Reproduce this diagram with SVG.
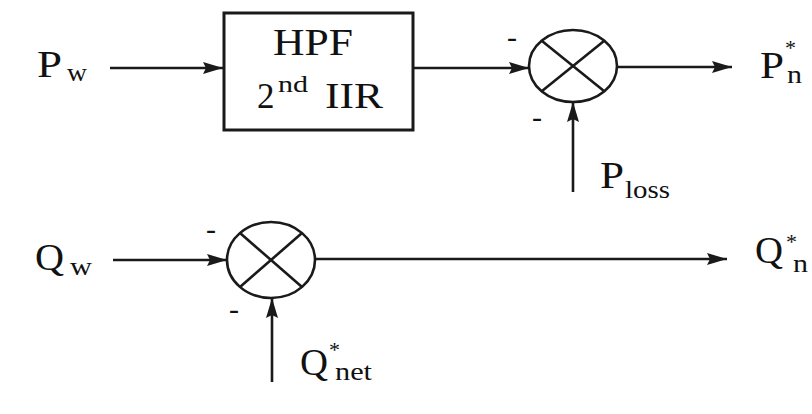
<svg xmlns="http://www.w3.org/2000/svg" width="812" height="414" viewBox="0 0 812 414">
  <style>
    .t { font-family: 'Liberation Serif', 'Times New Roman', serif; fill: #111111; }
    .main { font-size: 38px; }
    .sub { font-size: 25px; }
    .star { font-size: 22px; }
    .sign { font-size: 30px; text-anchor: middle; }
    .block { fill: none; stroke: #1a1a1a; stroke-width: 3; }
    .sum { fill: none; stroke: #1a1a1a; stroke-width: 2.6; }
    .wire { fill: none; stroke: #1a1a1a; stroke-width: 2.6; marker-end: url(#arrow); }
  </style>
  <defs>
    <marker id="arrow" markerUnits="userSpaceOnUse" markerWidth="22" markerHeight="14" refX="20" refY="7" orient="auto">
      <path d="M0,1 L20,7 L0,13 L3,7 Z" fill="#1a1a1a"/>
    </marker>
  </defs>
  <rect width="812" height="414" fill="#ffffff"/>

  <g id="node-pw">
    <text class="t main" x="37" y="77" textLength="25" lengthAdjust="spacingAndGlyphs">P</text>
    <text class="t sub" x="67" y="81" textLength="20" lengthAdjust="spacingAndGlyphs">w</text>
  </g>

  <g id="node-hpf">
    <rect class="block" x="224" y="13" width="189" height="117"/>
    <text class="t main" x="273" y="55" textLength="80" lengthAdjust="spacingAndGlyphs">HPF</text>
    <text class="t" x="257" y="108" font-size="35">2</text>
    <text class="t" x="278" y="92" font-size="23" textLength="30" lengthAdjust="spacingAndGlyphs">nd</text>
    <text class="t" x="325" y="108" font-size="35" textLength="58" lengthAdjust="spacingAndGlyphs">IIR</text>
  </g>

  <g id="node-sum1">
    <ellipse class="sum" cx="573" cy="66" rx="44" ry="36"/>
    <line class="sum" x1="542" y1="41" x2="604" y2="91"/>
    <line class="sum" x1="604" y1="41" x2="542" y2="91"/>
    <text class="t sign" x="512" y="47">-</text>
    <text class="t sign" x="537" y="127">-</text>
  </g>

  <g id="node-pn">
    <text class="t main" x="760" y="78" textLength="24" lengthAdjust="spacingAndGlyphs">P</text>
    <text class="t star" x="785" y="55">*</text>
    <text class="t sub" x="787" y="83" textLength="15" lengthAdjust="spacingAndGlyphs">n</text>
  </g>

  <g id="node-ploss">
    <text class="t main" x="600" y="188" textLength="24" lengthAdjust="spacingAndGlyphs">P</text>
    <text class="t sub" x="625" y="198" textLength="45" lengthAdjust="spacingAndGlyphs">loss</text>
  </g>

  <g id="node-qw">
    <text class="t main" x="35" y="270" textLength="29" lengthAdjust="spacingAndGlyphs">Q</text>
    <text class="t sub" x="70" y="275" textLength="22" lengthAdjust="spacingAndGlyphs">w</text>
  </g>

  <g id="node-sum2">
    <ellipse class="sum" cx="271" cy="260" rx="44" ry="38"/>
    <line class="sum" x1="240" y1="233" x2="302" y2="287"/>
    <line class="sum" x1="302" y1="233" x2="240" y2="287"/>
    <text class="t sign" x="211" y="239">-</text>
    <text class="t sign" x="234" y="319">-</text>
  </g>

  <g id="node-qn">
    <text class="t main" x="755" y="263" textLength="28" lengthAdjust="spacingAndGlyphs">Q</text>
    <text class="t star" x="786" y="249">*</text>
    <text class="t sub" x="793" y="272" textLength="15" lengthAdjust="spacingAndGlyphs">n</text>
  </g>

  <g id="node-qnet">
    <text class="t main" x="300" y="375" textLength="28" lengthAdjust="spacingAndGlyphs">Q</text>
    <text class="t star" x="329" y="357">*</text>
    <text class="t sub" x="335" y="380" textLength="37" lengthAdjust="spacingAndGlyphs">net</text>
  </g>

  <g id="connectors">
    <path class="wire" d="M110,68 L223,68"/>
    <path class="wire" d="M414,68 L529,68"/>
    <path class="wire" d="M617,67 L732,67"/>
    <path class="wire" d="M573,192 L573,102"/>
    <path class="wire" d="M113,260 L227,260"/>
    <path class="wire" d="M315,259 L727,259"/>
    <path class="wire" d="M272,382 L272,298"/>
  </g>
</svg>
